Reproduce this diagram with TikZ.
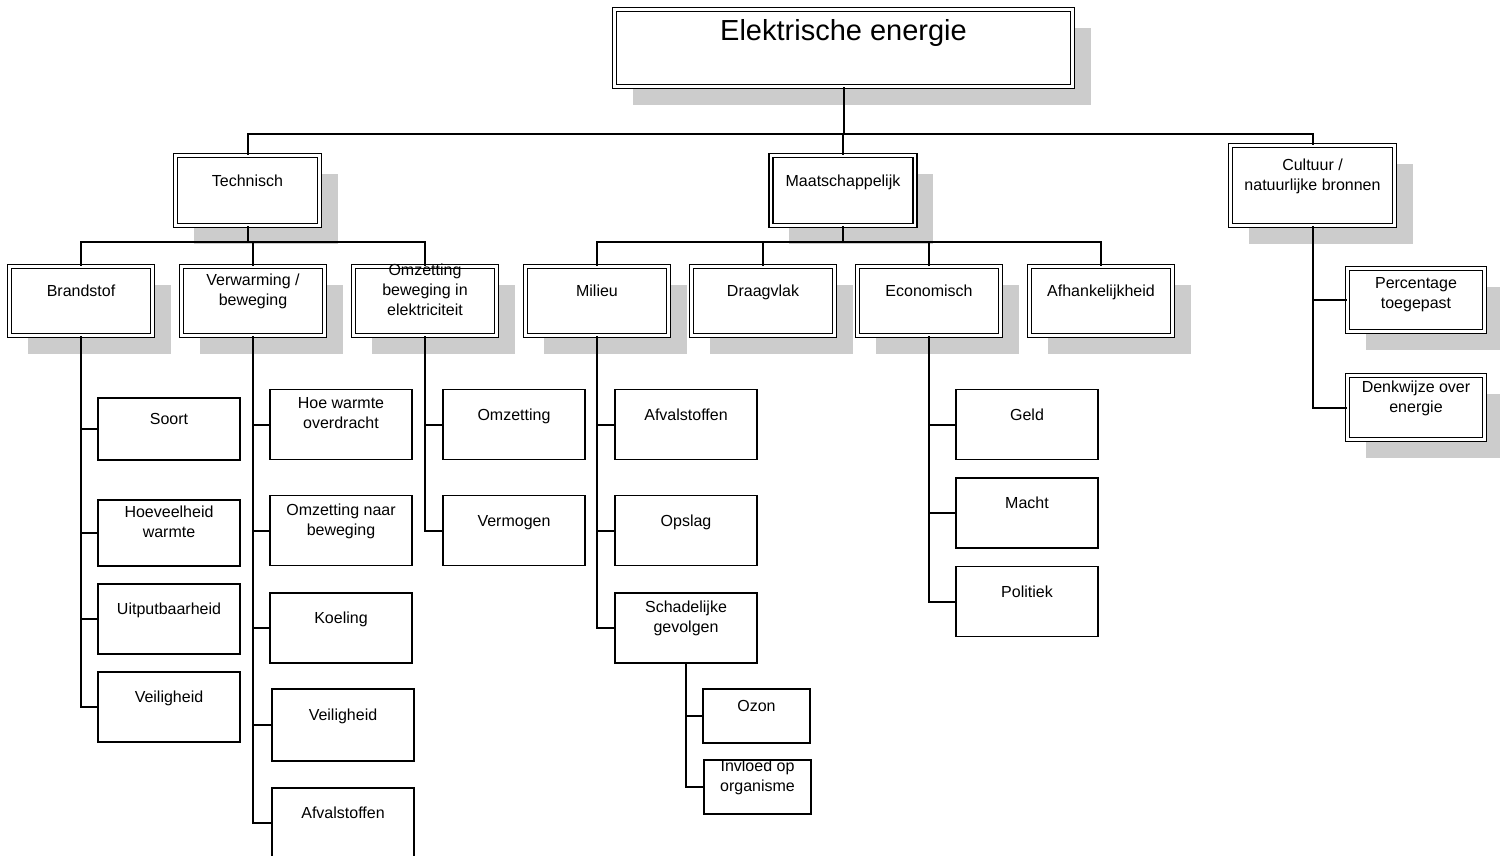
\documentclass[tikz,border=0pt]{standalone}
\usepackage{fontspec}
\setmainfont{Liberation Sans}
\usetikzlibrary{shadows}

\begin{document}
\begin{tikzpicture}[
  x=0.5pt, y=-0.5pt,
  tekst/.style={font=\fontsize{8}{10}\selectfont, align=center, inner sep=0pt,
    execute at begin node=\strut, execute at end node=\strut},
  titel/.style={font=\fontsize{14.5}{17}\selectfont, inner sep=0pt, yshift=7pt,
    execute at begin node=\strut},
  lab/.style={label={[tekst,yshift=4.1pt]center:#1}},
  hoofd/.style={draw, double, double distance=1.4pt, line width=.6pt, fill=white,
    minimum width=71.5pt, minimum height=34.5pt,
    drop shadow={shadow xshift=9.2pt, shadow yshift=-9.2pt, draw=none, fill=black!20, opacity=1}},
  blad/.style={draw, line width=.6pt, fill=white, minimum width=71pt, minimum height=35pt},
  lijn/.style={line width=1pt}
]
  \useasboundingbox (0,0) rectangle (1500,856);

  \node[hoofd, minimum width=229pt, minimum height=38.5pt,
    label={[titel]center:Elektrische energie}] (elek) at (843.5,48) {};

  \node[hoofd, lab=Technisch, minimum width=72pt, minimum height=35pt] (techn) at (247.5,190.5) {};
  \node[hoofd, lab=Maatschappelijk, minimum width=72pt, minimum height=35pt] (maat) at (843,190.5) {};
  \node[hoofd, minimum width=82pt, minimum height=40pt,
    label={[tekst,yshift=4pt]center:Cultuur /\\ natuurlijke bronnen}] (cult) at (1312.5,185.5) {};

  \node[hoofd, lab=Brandstof] (brand) at (81,301) {};
  \node[hoofd, lab={Verwarming /\\ beweging}] (verw) at (253,301) {};
  \node[hoofd, lab={Omzetting\\ beweging in\\ elektriciteit}] (omzb) at (425,301) {};
  \node[hoofd, lab=Milieu] (milieu) at (597,301) {};
  \node[hoofd, lab=Draagvlak] (draag) at (763,301) {};
  \node[hoofd, lab=Economisch] (econ) at (929,301) {};
  \node[hoofd, lab=Afhankelijkheid] (afh) at (1101,301) {};

  \node[hoofd, minimum width=68.5pt, minimum height=31.5pt,
    label={[tekst,yshift=2pt]center:Percentage\\ toegepast}] (perc) at (1416,300) {};
  \node[hoofd, lab={Denkwijze over\\ energie}, minimum width=68.5pt, minimum height=32pt] (denk) at (1416,407.5) {};

  \node[blad, lab=Soort, minimum height=31pt] (soort) at (169,429) {};
  \node[blad, lab={Hoeveelheid\\ warmte}, minimum height=33pt] (hoev) at (169,533) {};
  \node[blad, lab=Uitputbaarheid] (uitp) at (169,619) {};
  \node[blad, lab=Veiligheid] (veil1) at (169,707) {};

  \node[blad, lab={Hoe warmte\\ overdracht}] (hoew) at (341,424.5) {};
  \node[blad, lab={Omzetting naar\\ beweging}] (omzn) at (341,530.5) {};
  \node[blad, lab=Koeling] (koel) at (341,628) {};
  \node[blad, lab=Veiligheid, minimum height=36pt] (veil2) at (343,725) {};
  \node[blad, lab=Afvalstoffen] (afval1) at (343,823) {};

  \node[blad, lab=Omzetting] (omz) at (514,424.5) {};
  \node[blad, lab=Vermogen] (verm) at (514,530.5) {};

  \node[blad, lab=Afvalstoffen] (afval2) at (686,424.5) {};
  \node[blad, lab=Opslag] (opsl) at (686,530.5) {};
  \node[blad, lab={Schadelijke\\ gevolgen}] (schad) at (686,628) {};
  \node[blad, lab=Ozon, minimum width=53.5pt, minimum height=27pt] (ozon) at (756.5,716) {};
  \node[blad, lab={Invloed op\\ organisme}, minimum width=53.5pt, minimum height=27pt] (invl) at (757.5,787) {};

  \node[blad, lab=Geld] (geld) at (1027,424.5) {};
  \node[blad, lab=Macht] (macht) at (1027,513) {};
  \node[blad, lab=Politiek] (polit) at (1027,601.5) {};

  \coordinate (rail1) at (0,134);
  \coordinate (rail2) at (0,242);

  \draw[lijn] (elek.south) -- (elek.south |- rail1);
  \draw[lijn] (techn.north) -- (techn.north |- rail1) -- (cult.north |- rail1) -- (cult.north);
  \draw[lijn] (maat.north) -- (maat.north |- rail1);

  \draw[lijn] (techn.south) -- (techn.south |- rail2);
  \draw[lijn] (brand.north) -- (brand.north |- rail2) -- (omzb.north |- rail2) -- (omzb.north);
  \draw[lijn] (verw.north) -- (verw.north |- rail2);

  \draw[lijn] (maat.south) -- (maat.south |- rail2);
  \draw[lijn] (milieu.north) -- (milieu.north |- rail2) -- (afh.north |- rail2) -- (afh.north);
  \foreach \n in {draag,econ} \draw[lijn] (\n.north) -- (\n.north |- rail2);

  \draw[lijn] (cult.south) |- (denk.west);
  \draw[lijn] (cult.south |- perc.west) -- (perc.west);

  \draw[lijn] (brand.south) |- (veil1.west);
  \foreach \n in {soort,hoev,uitp} \draw[lijn] (brand.south |- \n.west) -- (\n.west);

  \draw[lijn] (verw.south) |- (afval1.west);
  \foreach \n in {hoew,omzn,koel,veil2} \draw[lijn] (verw.south |- \n.west) -- (\n.west);

  \draw[lijn] (omzb.south) |- (verm.west);
  \draw[lijn] (omzb.south |- omz.west) -- (omz.west);

  \draw[lijn] (milieu.south) |- (schad.west);
  \foreach \n in {afval2,opsl} \draw[lijn] (milieu.south |- \n.west) -- (\n.west);

  \draw[lijn] (schad.south) |- (invl.west);
  \draw[lijn] (schad.south |- ozon.west) -- (ozon.west);

  \draw[lijn] (econ.south) |- (polit.west);
  \foreach \n in {geld,macht} \draw[lijn] (econ.south |- \n.west) -- (\n.west);
\end{tikzpicture}
\end{document}
